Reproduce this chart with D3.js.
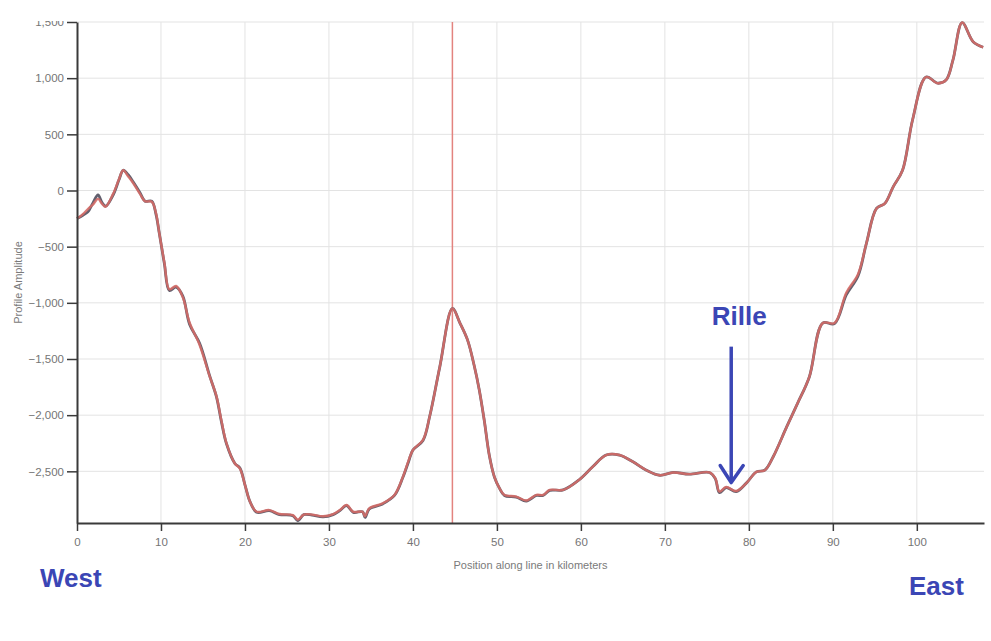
<!DOCTYPE html>
<html>
<head>
<meta charset="utf-8">
<script src="https://cdn.jsdelivr.net/npm/d3@7"></script>
<style>
  html, body { margin: 0; padding: 0; background: #fff; }
  svg { display: block; font-family: "Liberation Sans", Arial, sans-serif; }
</style>
</head>
<body>
<svg id="chart" width="991" height="641"></svg>
<script>
// Profile positions along the line (km)
const positionsKm = [
  0, 0.7, 1.3, 1.9, 2.5, 3.0, 3.4, 4.3, 5.0, 5.5, 6.1, 6.7, 7.5, 8.1, 8.9, 9.4, 9.8,
  10.4, 11.0, 11.8, 12.6, 13.4, 14.6, 15.8, 16.6, 17.2, 17.8, 18.8, 19.4, 20.0, 20.6,
  21.4, 22.9, 24.1, 25.7, 26.3, 27.0, 28.0, 29.3, 30.5, 31.3, 32.1, 32.9, 34.0, 34.3,
  34.8, 36.4, 37.8, 38.8, 39.5, 40.0, 41.2, 42.0, 43.2, 44.7, 45.6, 46.5, 47.3, 47.9,
  48.5, 49.1, 49.7, 50.3, 50.9, 52.3, 53.5, 54.7, 55.5, 56.3, 57.9, 59.8, 61.4, 63.0,
  64.6, 66.2, 67.8, 69.4, 71.0, 72.9, 75.3, 76.0, 76.5, 77.3, 78.5, 79.7, 80.9, 81.9,
  82.9, 84.5, 85.8, 87.2, 88.8, 90.2, 91.6, 93.0, 94.0, 95.2, 96.2, 97.2, 98.3, 99.5,
  101.1, 102.5, 103.5, 104.3, 105.4, 106.7, 107.9
];

// Raw profile amplitude
const rawAmplitude = [
  -250, -220, -190, -110, -40, -110, -140, -40, 95, 180, 140, 75, -20, -95, -95, -210, -380,
  -650, -890, -860, -940, -1190, -1360, -1650, -1835, -2060, -2255, -2430, -2470, -2620, -2770,
  -2865, -2850, -2885, -2895, -2940, -2885, -2890, -2905, -2885, -2850, -2805, -2865, -2860, -2910,
  -2835, -2790, -2715, -2555, -2410, -2310, -2225, -2010, -1570, -1050, -1180, -1330, -1560, -1775,
  -2050, -2360, -2550, -2650, -2715, -2730, -2765, -2715, -2715, -2670, -2665, -2575, -2460, -2355,
  -2355, -2415, -2490, -2535, -2510, -2525, -2510, -2565, -2690, -2645, -2680, -2605, -2505, -2490,
  -2370, -2105, -1895, -1660, -1180, -1185, -930, -760, -470, -160, -115, 35, 180, 630,
  1010, 955, 985, 1160, 1495, 1325, 1275
];

// Smoothed profile amplitude
const smoothAmplitude = [
  -250, -210, -165, -125, -75, -120, -145, -30, 100, 180, 125, 65, -30, -95, -100, -200, -380,
  -640, -880, -850, -950, -1175, -1375, -1655, -1830, -2050, -2250, -2430, -2475, -2620, -2770,
  -2860, -2845, -2880, -2890, -2930, -2885, -2885, -2900, -2880, -2845, -2800, -2860, -2860, -2900,
  -2830, -2785, -2710, -2550, -2400, -2310, -2220, -2010, -1570, -1050, -1180, -1330, -1560, -1775,
  -2050, -2360, -2550, -2650, -2710, -2725, -2760, -2710, -2710, -2665, -2665, -2575, -2460, -2355,
  -2355, -2415, -2490, -2535, -2510, -2525, -2510, -2560, -2680, -2640, -2675, -2605, -2505, -2490,
  -2370, -2105, -1895, -1660, -1180, -1180, -910, -745, -470, -160, -115, 35, 180, 630,
  1010, 955, 985, 1160, 1495, 1325, 1275
];

const xTicks = [0, 10, 20, 30, 40, 50, 60, 70, 80, 90, 100];
const yTicks = [1500, 1000, 500, 0, -500, -1000, -1500, -2000, -2500];

// Cursor position along the profile and the annotated rille
const cursorKm = 44.7;
const rille = { label: "Rille", km: 77.9, top: -1390, tip: -2600 };

const svg = d3.select("#chart");
const W = 991, H = 641;

const x = d3.scaleLinear().domain([0, 108]).range([77, 984]);
const y = d3.scaleLinear().domain([-2960, 1500]).range([523, 22]);

// Everything inside this clip; the topmost strip stays blank
svg.append("defs").append("clipPath").attr("id", "view")
  .append("rect").attr("x", 0).attr("y", 21).attr("width", W).attr("height", H - 21);

const root = svg.append("g").attr("clip-path", "url(#view)");

// Grid
const grid = root.append("g").attr("stroke", "#e3e3e3").attr("stroke-width", 1);
grid.selectAll("line.v").data(xTicks.filter(d => d > 0)).join("line")
  .attr("x1", d => x(d)).attr("x2", d => x(d))
  .attr("y1", y(1500)).attr("y2", y(-2960));
grid.selectAll("line.h").data(yTicks).join("line")
  .attr("x1", x(0)).attr("x2", x(108))
  .attr("y1", d => y(d)).attr("y2", d => y(d));

// Cursor line
root.append("line")
  .attr("x1", x(cursorKm)).attr("x2", x(cursorKm))
  .attr("y1", y(1500)).attr("y2", y(-2960))
  .attr("stroke", "#e3837f").attr("stroke-width", 1.5);

// Profiles
const rawPts = positionsKm.map((k, i) => [k, rawAmplitude[i]]);
const smoothPts = positionsKm.map((k, i) => [k, smoothAmplitude[i]]);
const line = d3.line().x(d => x(d[0])).y(d => y(d[1])).curve(d3.curveCatmullRom.alpha(0.5));

root.append("path").datum(rawPts).attr("d", line)
  .attr("fill", "none").attr("stroke", "#62606e").attr("stroke-width", 2.8)
  .attr("stroke-linejoin", "round");
root.append("path").datum(smoothPts).attr("d", line)
  .attr("fill", "none").attr("stroke", "#d46c67").attr("stroke-width", 2.4)
  .attr("stroke-opacity", 0.9).attr("stroke-linejoin", "round");

// Axes
const fmt = d3.format(",");
const yAxis = root.append("g").attr("transform", `translate(${x(0)},0)`)
  .call(d3.axisLeft(y).tickValues(yTicks).tickFormat(fmt).tickSize(10).tickSizeOuter(0).tickPadding(3));
const xAxis = root.append("g").attr("transform", `translate(0,${y(-2960)})`)
  .call(d3.axisBottom(x).tickValues(xTicks).tickSize(8).tickSizeOuter(0).tickPadding(7));

[yAxis, xAxis].forEach(a => {
  a.select(".domain").attr("stroke", "#3a3a3a").attr("stroke-width", 2);
  a.selectAll(".tick line").attr("stroke", "#3a3a3a").attr("stroke-width", 1.5);
  a.selectAll(".tick text").attr("fill", "#757575").attr("font-size", 11.5)
    .attr("font-family", "'Liberation Sans', Arial, sans-serif");
});

// Axis titles
root.append("text")
  .attr("transform", `translate(22,${(y(1500) + y(-2960)) / 2 + 10}) rotate(-90)`)
  .attr("text-anchor", "middle").attr("fill", "#7a7a7a").attr("font-size", 11)
  .text("Profile Amplitude");
root.append("text")
  .attr("x", (x(0) + x(108)) / 2).attr("y", 569)
  .attr("text-anchor", "middle").attr("fill", "#7a7a7a").attr("font-size", 11)
  .text("Position along line in kilometers");

// Direction labels
const blue = "#3b46b5";
root.append("text").attr("x", 40).attr("y", 587)
  .attr("fill", blue).attr("font-size", 26).attr("font-weight", "bold").text("West");
root.append("text").attr("x", 909).attr("y", 595)
  .attr("fill", blue).attr("font-size", 26).attr("font-weight", "bold").text("East");

// Rille annotation
const ax = x(rille.km);
root.append("text").attr("x", ax + 8).attr("y", 325).attr("text-anchor", "middle")
  .attr("fill", blue).attr("font-size", 26).attr("font-weight", "bold").text(rille.label);
root.append("line")
  .attr("x1", ax).attr("x2", ax).attr("y1", y(rille.top)).attr("y2", y(rille.tip) - 2)
  .attr("stroke", blue).attr("stroke-width", 3.5);
root.append("path")
  .attr("d", `M${ax - 11},${y(rille.tip) - 17}L${ax},${y(rille.tip)}L${ax + 12},${y(rille.tip) - 17}`)
  .attr("fill", "none").attr("stroke", blue).attr("stroke-width", 3.5)
  .attr("stroke-linecap", "round").attr("stroke-linejoin", "round");
</script>
</body>
</html>
